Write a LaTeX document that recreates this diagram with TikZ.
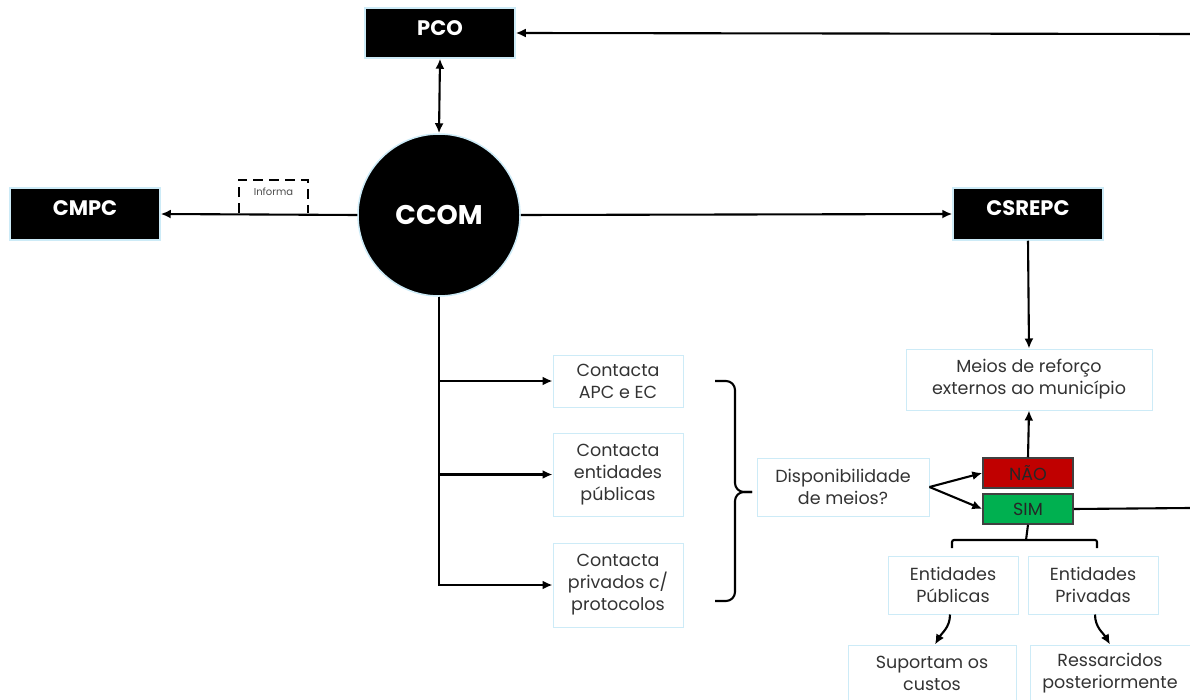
\documentclass[tikz,border=0pt]{standalone}
\usepackage{fontspec}
\setmainfont{Poppins}
\usetikzlibrary{ arrows.meta,  % For the arrow tips
                 positioning,  % For easy node-relative placements
               }
\definecolor{edgeblue}{HTML}{CDEBF7}
\definecolor{txtgray}{HTML}{333333}
\definecolor{naored}{HTML}{C00000}
\definecolor{simgreen}{HTML}{00B050}
\tikzstyle{unit} = [rectangle, fill=black, draw=edgeblue, line width=1.5pt, text=white, font=\bfseries\fontsize{21}{24}\selectfont, inner sep=0pt, minimum width=150pt]
\tikzstyle{task} = [rectangle, draw=edgeblue, line width=1pt, text=txtgray, align=center, font=\fontsize{17.5}{22}\selectfont, inner sep=0pt]
\tikzstyle{answer} = [rectangle, draw=black!75, line width=1.5pt, minimum width=90pt, minimum height=30pt, text=black!85, font=\fontsize{17.5}{18}\selectfont, inner sep=0pt]
\tikzstyle{flow} = [-{Latex[length=10pt,width=9pt]}, line width=2.1pt]

\begin{document}
\begin{tikzpicture}[x=1pt, y=-1pt]
  \useasboundingbox (0,0) rectangle (1190,700);
  % top and main units
  \node (pco) [unit, text height=28pt, text depth=22pt] at (440, 33) {PCO};
  \node (cmpc) [unit, text height=28pt, text depth=24pt] at (85, 214) {CMPC};
  \node (csrepc) [unit, text height=28pt, text depth=24pt] at (1028, 214) {CSREPC};
  \node (ccom) [circle, fill=black, draw=edgeblue, line width=1.5pt, minimum size=162pt, text=white, font=\bfseries\fontsize{27}{30}\selectfont] at (439, 215) {CCOM};
  \coordinate (topedge) at (1190, 34);
  \draw [flow] (topedge) -- (pco.east);
  \draw [flow, {Latex[length=10pt,width=9pt]}-{Latex[length=10pt,width=9pt]}] (pco.south) -- (ccom.north);
  \draw [flow] (ccom.west) -- (cmpc.east);
  \draw [flow] (ccom.east) -- (csrepc.west);
  \node (inf) [minimum width=69pt, minimum height=33pt, text=black!70, font=\fontsize{10}{11}\selectfont, inner sep=0pt] at (273.5, 196.5) {\raisebox{9pt}{Informa}};
  \draw [dash pattern=on 10pt off 6pt, line width=2.1pt] (inf.south west) |- (inf.north) -| (inf.south east);

  % contacts
  \node (c1) [task, minimum width=130pt, minimum height=52pt] at (618, 381) {Contacta\\APC e EC};
  \node (c2) [task, minimum width=130pt, minimum height=83pt] at (618, 474.5) {Contacta\\entidades\\públicas};
  \node (c3) [task, minimum width=130pt, minimum height=84pt] at (618, 585) {Contacta\\privados c/\\protocolos};
  \draw [flow] (ccom.south) |- (c1.west);
  \draw [flow] (ccom.south) |- (c2.west);
  \draw [flow] (ccom.south) |- (c3.west);
  \draw [line width=2.1pt, rounded corners=9pt] (715, 381) -- (735, 381) -- (735, 492) -- (752, 492);
  \draw [line width=2.1pt, rounded corners=9pt] (715, 601) -- (735, 601) -- (735, 492) -- (752, 492);

  % decision
  \node (disp) [task, minimum width=172pt, minimum height=58pt] at (843, 487) {Disponibilidade\\de meios?};
  \node (nao) [answer, fill=naored] at (1028, 473) {NÃO};
  \node (sim) [answer, fill=simgreen] at (1028, 509) {SIM};
  \draw [flow] (disp.east) -- (nao.west);
  \draw [flow] (disp.east) -- (sim.west);
  \node (meios) [task, minimum width=246pt, minimum height=61pt] at (1029, 379.5) {Meios de reforço\\externos ao município};
  \draw [flow] (csrepc.south) -- (meios.north);
  \draw [flow] (nao.north) -- (meios.south);
  \coordinate (rightedge) at (1190, 508);
  \draw [line width=2.1pt] (sim.east) -- (rightedge);

  % entities
  \node (epub) [task, minimum width=130pt, minimum height=58pt] at (953, 585) {Entidades\\Públicas};
  \node (epriv) [task, minimum width=130pt, minimum height=58pt] at (1093, 585) {Entidades\\Privadas};
  \node (custos) [task, minimum width=168pt, minimum height=56pt] at (932, 673) {Suportam os\\custos};
  \node (ressarc) [task, minimum width=160pt, minimum height=56pt] at (1110, 673) {Ressarcidos\\posteriormente};
  \draw [line width=2.1pt] (sim.south) -- (1026, 540);
  \draw [line width=2.1pt, rounded corners=2pt] (952, 548) -- (952, 540) -- (1097, 540) -- (1097, 548);
  \draw [flow] ([xshift=-3pt]epub.south) to [out=-90, in=60] ([xshift=3pt]custos.north);
  \draw [flow] ([xshift=2pt]epriv.south) to [out=-90, in=120] (ressarc.north);
\end{tikzpicture}
\end{document}
